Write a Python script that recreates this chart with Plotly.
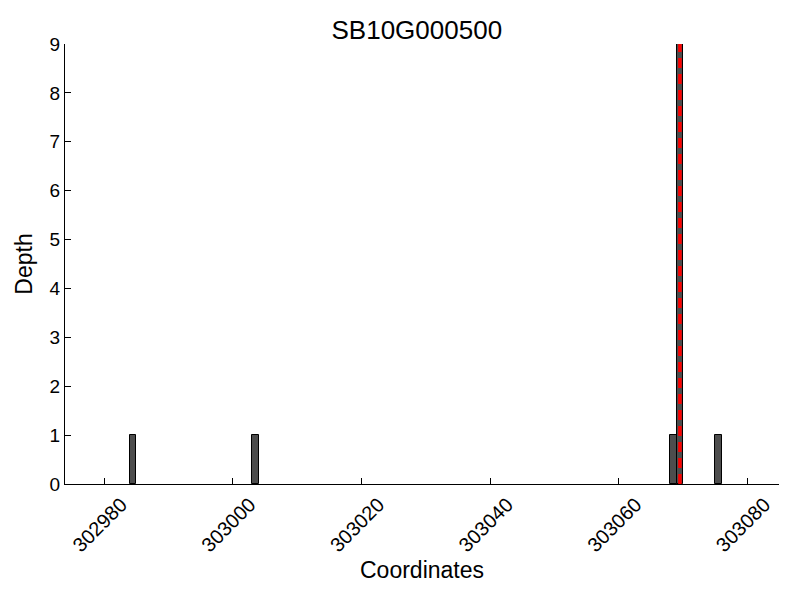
import plotly.graph_objects as go

positions = [302984, 303003, 303068, 303069, 303075]
depths = [1, 1, 1, 9, 1]
snp_position = 303069.5
title = "SB10G000500"
x_tick_vals = [302980, 303000, 303020, 303040, 303060, 303080]
y_tick_vals = list(range(0, 10))

fig = go.Figure()
fig.add_trace(go.Bar(
    x=positions, y=depths, width=1, offset=0,
    marker=dict(color="#4d4d4d", line=dict(color="black", width=1)),
    showlegend=False,
))
fig.add_trace(go.Scatter(
    x=[snp_position, snp_position], y=[0, max(depths)], mode="lines",
    line=dict(color="red", width=3.5, dash="10px,6px"), showlegend=False,
))

font = "Liberation Sans, Arial, sans-serif"
fig.update_layout(
    width=800, height=600,
    margin=dict(l=57, r=29, t=36, b=124, autoexpand=False),
    plot_bgcolor="white", paper_bgcolor="white",
    font=dict(family=font, color="black", size=19),
    title=dict(text=title, x=0.511, xanchor="center", y=1 - 22 / 600, yanchor="middle",
               font=dict(size=26, family=font)),
    bargap=0,
)
fig.update_xaxes(
    range=[302973.9, 303084.9], tickvals=x_tick_vals, tickformat="d", tickangle=-45,
    ticks="inside", ticklen=6, tickcolor="black", showgrid=False, zeroline=False,
    showline=True, linecolor="black", linewidth=1, automargin=False,
    ticklabelshift=17, ticklabelstandoff=0,
    title=dict(text="Coordinates", font=dict(size=23), standoff=6),
    tickfont=dict(size=20),
)
fig.update_yaxes(
    range=[0, 9], tickvals=y_tick_vals, ticks="inside", ticklen=6, tickcolor="black",
    showgrid=False, zeroline=False, showline=True, linecolor="black", linewidth=1,
    automargin=False,
    title=dict(text="Depth", font=dict(size=23), standoff=10),
    tickfont=dict(size=19),
)
fig.write_html("out.html")
